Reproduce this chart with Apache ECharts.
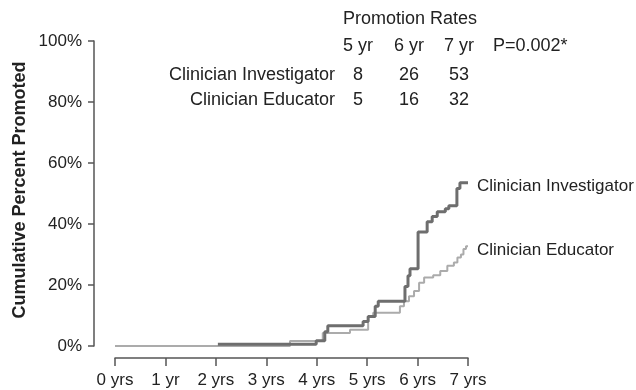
<!DOCTYPE html>
<html>
<head>
<meta charset="utf-8">
<script src="https://cdn.jsdelivr.net/npm/echarts@6/dist/echarts.min.js"></script>
<style>html,body{margin:0;padding:0;background:#fff}#c{width:636px;height:390px}</style>
</head>
<body>
<div id="c"></div>
<script>
// ---- data ----
var xTickLabels = ['0 yrs','1 yr','2 yrs','3 yrs','4 yrs','5 yrs','6 yrs','7 yrs'];
var yTickLabels = {0:'0%',20:'20%',40:'40%',60:'60%',80:'80%',100:'100%'};
var seriesNames = ['Clinician Investigator','Clinician Educator'];
var ciTimes = [2.04, 3.99, 4.16, 4.22, 4.92, 5.02, 5.16, 5.22, 5.75, 5.81, 5.85, 6.01, 6.19, 6.29, 6.39, 6.55, 6.62, 6.78, 6.84, 7.0];
var ciPct   = [0.6, 1.7, 4.7, 6.6, 8.0, 9.7, 13.0, 14.7, 19.5, 23.0, 25.3, 37.4, 40.7, 42.5, 44.0, 45.0, 46.0, 51.6, 53.5, 53.5];
var ceTimes = [0, 3.47, 4.12, 4.66, 5.02, 5.12, 5.65, 5.73, 5.83, 5.93, 6.03, 6.13, 6.31, 6.45, 6.59, 6.72, 6.79, 6.86, 6.91, 6.96, 7.0];
var cePct   = [0, 1.6, 4.3, 5.3, 9.7, 10.9, 13.0, 14.7, 16.3, 18.0, 20.7, 22.5, 23.2, 24.6, 26.3, 27.4, 29.0, 30.0, 31.8, 32.7, 32.7];
var tableTitle = 'Promotion Rates';
var rateYears = ['5 yr','6 yr','7 yr'];
var pValueText = 'P=0.002*';
var ciRates = [8, 26, 53];
var ceRates = [5, 16, 32];
var yAxisTitle = 'Cumulative Percent Promoted';

function pairs(t, v){ return t.map(function(x,i){ return [x, v[i]]; }); }

var FONT = '"Liberation Sans", Arial, sans-serif';
var TXT = '#222';
var AX = '#555';

// table graphics
var colX = [358, 409, 459];
var g = [];
function txt(x, y, s, align){
  return {type:'text', x:x, y:y, style:{text:String(s), fill:TXT, font:'18px ' + FONT, textAlign:align||'left', textVerticalAlign:'middle'}};
}
g.push(txt(343, 19, tableTitle, 'left'));
rateYears.forEach(function(s,i){ g.push(txt(colX[i], 46, s, 'center')); });
g.push(txt(493, 46, pValueText, 'left'));
g.push(txt(335, 75, seriesNames[0], 'right'));
g.push(txt(335, 100, seriesNames[1], 'right'));
ciRates.forEach(function(s,i){ g.push(txt(colX[i], 75, s, 'center')); });
ceRates.forEach(function(s,i){ g.push(txt(colX[i], 100, s, 'center')); });
g.push({type:'text', x:20, y:190, rotation:Math.PI/2,
  style:{text:yAxisTitle, fill:TXT, font:'bold 18px ' + FONT, textAlign:'center', textVerticalAlign:'middle'}});

var chart = echarts.init(document.getElementById('c'), null, {renderer:'canvas'});
chart.setOption({
  animation:false,
  backgroundColor:'#fff',
  grid:{left:115, right:168, top:41, bottom:44},
  xAxis:{
    type:'value', min:0, max:7, interval:1, offset:12,
    axisLine:{show:true, onZero:false, lineStyle:{color:AX, width:1.5}},
    axisTick:{show:true, length:8, lineStyle:{color:AX, width:1.5}},
    axisLabel:{formatter:function(v){return xTickLabels[Math.round(v)];}, color:TXT, fontSize:17, fontFamily:FONT, margin:14},
    splitLine:{show:false}
  },
  yAxis:{
    type:'value', min:0, max:100, interval:20, offset:21,
    axisLine:{show:true, onZero:false, lineStyle:{color:AX, width:1.5}},
    axisTick:{show:true, length:6, lineStyle:{color:AX, width:1.5}},
    axisLabel:{formatter:function(v){return yTickLabels[v];}, color:TXT, fontSize:17, fontFamily:FONT, margin:12},
    splitLine:{show:false}
  },
  series:[
    {name:seriesNames[1], type:'line', step:'end', data:pairs(ceTimes, cePct), symbol:'none', z:2,
      lineStyle:{color:'#ababab', width:2},
      endLabel:{show:true, formatter:'{a}', color:TXT, fontSize:17, fontFamily:FONT, distance:9, offset:[0,4]}},
    {name:seriesNames[0], type:'line', step:'end', data:pairs(ciTimes, ciPct), symbol:'none', z:3,
      lineStyle:{color:'#6e6e6e', width:3},
      endLabel:{show:true, formatter:'{a}', color:TXT, fontSize:17, fontFamily:FONT, distance:9, offset:[0,3]}}
  ],
  graphic:g
});
</script>
</body>
</html>
